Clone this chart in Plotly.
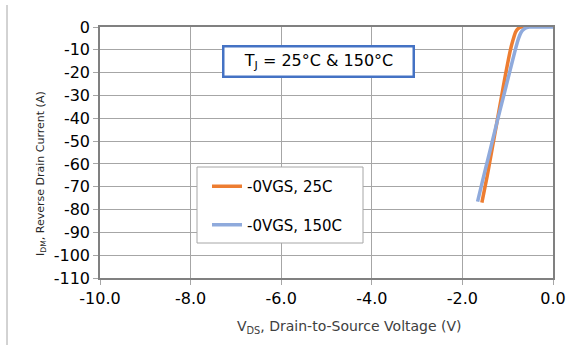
import plotly.graph_objects as go

# Data
v_25c = [-1.57, -1.45, -1.34, -1.24, -1.15, -1.05, -0.94, -0.88, -0.83, -0.78, -0.74, -0.70, -0.62, -0.55]
i_25c = [-77, -65, -53, -42, -32, -21, -10, -5.5, -2.4, -0.9, -0.3, -0.05, 0, 0]

v_150c = [-1.665, -1.55, -1.40, -1.24, -1.10, -0.96, -0.83, -0.76, -0.70, -0.64, -0.58, -0.52, -0.45, -0.30, 0.0]
i_150c = [-76.5, -67, -55, -42, -31, -20, -9.8, -5, -2.2, -0.9, -0.3, -0.05, 0, 0, 0]

x_ticks = [-10, -8, -6, -4, -2, 0]
x_tick_labels = ["-10.0", "-8.0", "-6.0", "-4.0", "-2.0", "0.0"]
y_ticks = list(range(0, -120, -10))
y_tick_labels = [str(v) for v in y_ticks]

fig = go.Figure()
fig.add_trace(go.Scatter(x=v_25c, y=i_25c, mode="lines", name="-0VGS, 25C",
                         line=dict(color="#ED7D31", width=3.5, shape="spline", smoothing=0.6),
                         legendgroup="a"))
fig.add_trace(go.Scatter(x=v_150c, y=i_150c, mode="lines", name="-0VGS, 150C",
                         line=dict(color="#8FAADC", width=3.5, shape="spline", smoothing=0.6),
                         legendgroup="b"))

font_family = "DejaVu Sans"
L, R, T, B = 100, 553, 27, 278
W, H = R - L, B - T


def px(x):
    return (x - L) / W


def py(y):
    return (B - y) / H


fig.update_layout(
    width=573, height=350,
    margin=dict(l=L, r=573 - R, t=T, b=350 - B, autoexpand=False),
    paper_bgcolor="white", plot_bgcolor="white",
    font=dict(family=font_family, color="#000000"),
    showlegend=True,
    legend=dict(x=px(207), y=py(170), xanchor="left", yanchor="top",
                borderwidth=0, bgcolor="rgba(0,0,0,0)",
                font=dict(size=15, family=font_family), traceorder="grouped",
                tracegroupgap=16, itemwidth=30),
    xaxis=dict(range=[-10, 0], tickvals=x_ticks, ticktext=x_tick_labels,
               showgrid=True, gridcolor="#A6A6A6", gridwidth=1,
               showline=True, linecolor="#808080", linewidth=1.5, mirror=True,
               ticks="outside", ticklen=5, tickcolor="#A6A6A6",
               tickfont=dict(size=16), zeroline=False, automargin=False),
    yaxis=dict(range=[-110, 0], tickvals=y_ticks, ticktext=y_tick_labels,
               showgrid=True, gridcolor="#A6A6A6", gridwidth=1,
               showline=True, linecolor="#808080", linewidth=1.5, mirror=True,
               ticks="outside", ticklen=5, tickcolor="#A6A6A6",
               tickfont=dict(size=16), zeroline=False, automargin=False),
)

# legend frame
fig.add_shape(type="rect", xref="paper", yref="paper", layer="above",
              x0=px(197), x1=px(363), y0=py(243), y1=py(167),
              line=dict(color="#A6A6A6", width=1), fillcolor="white")

# axis titles
fig.add_annotation(x=px(349), y=py(327), xref="paper", yref="paper",
                   xanchor="center", yanchor="middle",
                   text="V<sub>DS</sub>, Drain-to-Source Voltage (V)", showarrow=False,
                   font=dict(size=14, color="#404040"))
fig.add_annotation(x=px(41), y=py(174), xref="paper", yref="paper",
                   xanchor="center", yanchor="middle", textangle=-90,
                   text="I<sub>DM</sub>, Reverse Drain Current (A)", showarrow=False,
                   font=dict(size=11, color="#262626"))

fig.add_annotation(x=-5.18, y=-14.9, xref="x", yref="y",
                   text="T<sub>J</sub> = 25°C & 150°C", showarrow=False,
                   font=dict(size=16, family=font_family, color="#000000"),
                   bordercolor="#4472C4", borderwidth=2.5, bgcolor="white",
                   width=186, height=26, align="center")

fig.add_shape(type="line", xref="paper", yref="paper",
              x0=px(7), x1=px(7), y0=py(345), y1=py(5),
              line=dict(color="#A6A6A6", width=1))

fig.write_html("out.html", config={"displayModeBar": False},
               post_script="document.body.style.margin='0';")
